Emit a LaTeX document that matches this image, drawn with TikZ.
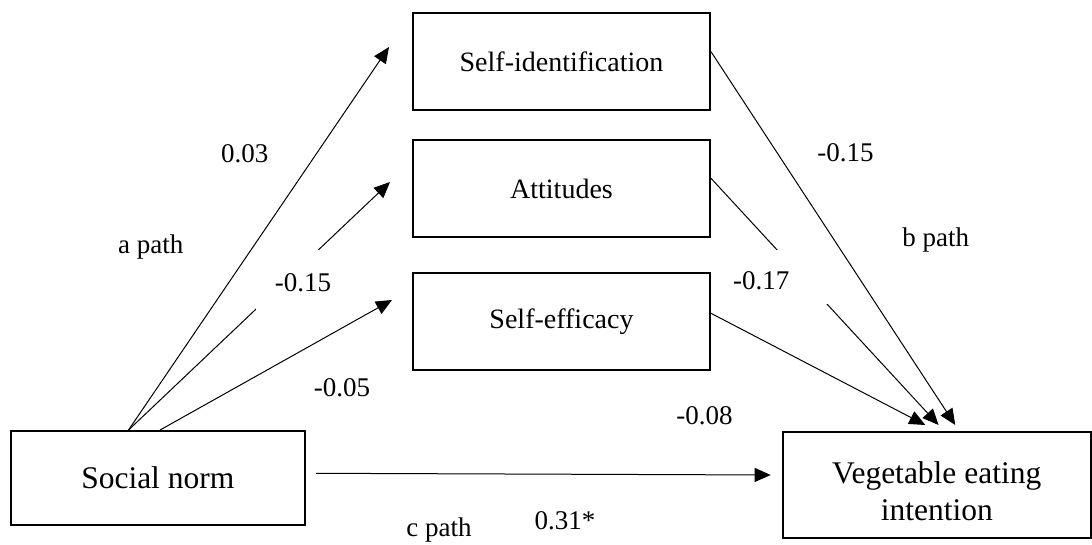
\documentclass[tikz,border=0pt]{standalone}
\usepackage{fontspec}
\setmainfont{Liberation Serif}
\usetikzlibrary{positioning, arrows.meta}
\tikzset{
    %Define standard arrow tip
    >={Triangle[length=16pt,width=14pt]},
    %Define style for the outer variables
    varbox/.style={
           rectangle,
           draw=black, line width=2pt,
           minimum width=294.5pt,
           minimum height=93.5pt,
           align=center,
           font=\fontsize{31.5}{37}\selectfont},
    %Define style for the mediators
    medbox/.style={
           rectangle,
           draw=black, line width=2pt,
           minimum width=297pt,
           minimum height=97.5pt,
           font=\fontsize{28}{33}\selectfont},
    %Define style for the coefficients
    coef/.style={
           anchor=base,
           inner sep=0pt,
           font=\fontsize{27}{32}\selectfont},
    % Define arrow style
    link/.style={
           ->,
           line width=1pt}
}
\begin{document}
\begin{tikzpicture}[x=1pt, y=1pt]
	\useasboundingbox (0,0) rectangle (1092,545);
	%
	% boxes
	%
	\node[varbox] (norm) at (157.8,67.2) {Social norm};
	\node[varbox, minimum width=307.5pt, minimum height=106pt] (intent) at (936.75,60.3) {\rule{0pt}{34pt}Vegetable eating\\intention};
	\node[medbox] (ident) at (561.5,483.4) {Self-identification};
	\node[medbox, below=27.5pt of ident] (attit) {Attitudes};
	\node[medbox, below=33.5pt of attit] (effic) {Self-efficacy};
	%
	% links
	%
	\draw[link] ([xshift=-29.3pt]norm.north) -- ([xshift=-23pt,yshift=14.6pt]ident.west);
	\draw[link] ([xshift=-29.3pt]norm.north) -- ([xshift=-22pt,yshift=6.6pt]attit.west);
	\draw[link] ([xshift=2.2pt]norm.north) -- ([xshift=-20pt,yshift=21.6pt]effic.west);
	\draw[link] ([xshift=10pt,yshift=4.5pt]norm.east) -- ([xshift=-11.3pt,yshift=9.7pt]intent.west);
	\draw[link] ([yshift=9.9pt]ident.east) -- ([xshift=18.5pt,yshift=5.7pt]intent.north);
	\draw[link] ([yshift=10.3pt]attit.east) -- ([xshift=1.8pt,yshift=5.7pt]intent.north);
	\draw[link] ([yshift=8.3pt]effic.east) -- ([xshift=-11.5pt,yshift=5.7pt]intent.north);
	%
	% coefficients
	%
	\node[coef] (aid) at (244.8,382) {0.03};
	\node[coef] (apath) at (150.8,291.5) {a path};
	\node[coef, fill=white, text width=75pt, align=right, text height=42pt, text depth=18pt] (aatt) at (293.5,253.2) {-0.15};
	\node[coef] (aeff) at (342,148) {-0.05};
	\node[coef] (bid) at (845.5,383.3) {-0.15};
	\node[coef] (bpath) at (935.8,298.3) {b path};
	\node[coef, fill=white, text width=95pt, align=left, text height=40pt, text depth=14pt] (batt) at (780.5,255) {-0.17};
	\node[coef] (beff) at (704.6,120) {-0.08};
	\node[coef] (cpath) at (439,8.3) {c path};
	\node[coef] (cval) at (565,15.7) {0.31*};
\end{tikzpicture}
\end{document}
